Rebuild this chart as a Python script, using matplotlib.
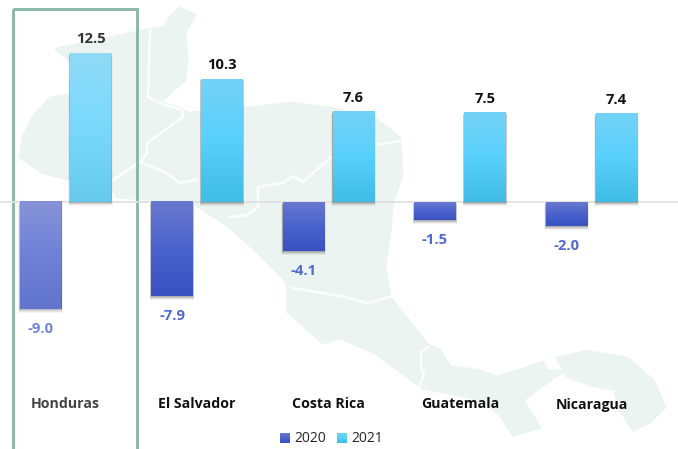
import matplotlib
matplotlib.use('Agg')
import matplotlib.pyplot as plt
import numpy as np
from matplotlib.colors import LinearSegmentedColormap
from matplotlib.patches import Polygon, Rectangle
from matplotlib.transforms import Affine2D

countries = ['Honduras', 'El Salvador', 'Costa Rica', 'Guatemala', 'Nicaragua']
values_2020 = [-9.0, -7.9, -4.1, -1.5, -2.0]
values_2021 = [12.5, 10.3, 7.6, 7.5, 7.4]

W, H = 678, 449
UX, UY = 131.5, 11.9  # px per country, px per unit of growth
plt.rcParams['font.family'] = ['Open Sans', 'DejaVu Sans']

fig = plt.figure(figsize=(W / 100, H / 100), dpi=100)
ax = fig.add_axes([0, 0, 1, 1])


def set_limits():
    ax.set_xlim(-65.5 / UX, (W - 65.5) / UX)
    ax.set_ylim(-(H - 202) / UY, 202 / UY)


set_limits()
ax.axis('off')

# background map, traced in pixels of the picture
px = Affine2D().scale(1, -1).translate(0, H)
map_main = [(56, 49), (147, 30), (165, 27), (170, 17), (180, 8), (195, 15), (185, 33), (187, 60),
            (185, 80), (160, 102), (180, 108), (187, 113), (250, 108), (290, 103), (330, 108),
            (377, 120), (400, 138), (402, 175), (392, 205), (390, 232), (385, 265), (390, 297),
            (428, 345), (440, 350), (450, 367), (477, 370), (497, 377), (520, 370), (543, 362),
            (547, 370), (563, 372), (553, 378), (523, 400), (540, 428), (513, 435), (500, 415),
            (483, 400), (423, 388), (373, 352), (340, 338), (323, 343), (288, 312), (287, 282),
            (255, 250), (227, 225), (193, 203), (117, 197), (113, 190), (43, 173), (20, 157),
            (23, 137), (33, 117), (50, 98), (70, 95), (72, 62)]
map_east = [(557, 358), (587, 351), (627, 358), (653, 380), (665, 407), (650, 422), (633, 430),
            (620, 410), (615, 393), (632, 391), (612, 389), (590, 385), (567, 376)]
map_borders = [
    [(150, 30), (148, 97), (160, 103), (182, 110), (183, 117), (147, 143), (147, 153), (140, 162),
     (165, 172), (180, 183), (197, 180)],
    [(140, 162), (113, 180)],
    [(400, 141), (377, 145), (330, 158), (303, 182), (293, 176), (283, 183), (258, 187),
     (258, 207), (247, 215), (230, 217)],
    [(293, 288), (340, 296), (367, 303), (390, 297)],
    [(428, 347), (421, 352), (421, 368), (424, 374), (420, 385)],
]
for shape in (map_main, map_east):
    ax.add_patch(Polygon(shape, closed=True, transform=px, facecolor='#ebf4f1', edgecolor='#ebf4f1',
                         lw=2, joinstyle='round', zorder=1))
for line in map_borders:
    xs, ys = zip(*line)
    ax.plot(xs, ys, transform=px, color='#fbfdfc', lw=2, solid_joinstyle='round', zorder=1.5)

# highlight box around Honduras
ax.add_patch(Rectangle((13, 9), 124, 445, transform=px, fill=False, edgecolor='#85b5a4', lw=2, zorder=2))

# zero line
ax.axhline(0, color='#e0e0e0', lw=1.3, zorder=2)

cmap_2020 = LinearSegmentedColormap.from_list('c20', ['#6878cf', '#4a62cc', '#3a52c0'])
cmap_2021 = LinearSegmentedColormap.from_list('c21', ['#74d2f6', '#58d0fc', '#40bce6'])
grad = np.linspace(0, 1, 64).reshape(-1, 1)

x = np.arange(len(countries))
bar_w = 41.5 / UX
offset = 25 / UX


def gradient_bars(xpos, vals, cmap):
    bars = ax.bar(xpos, vals, width=bar_w, color='none', zorder=4)
    for i, b in enumerate(bars):
        alpha = 0.8 if i == 0 else 1.0  # Honduras is drawn faded
        x0, x1 = b.get_x(), b.get_x() + b.get_width()
        y0, y1 = sorted((0, b.get_height()))
        # soft shadow under the bar
        for k, a in zip((4, 3, 2, 1), (0.07, 0.10, 0.14, 0.18)):
            ax.add_patch(Rectangle((x0 - 0.4 * k / UX, y0 - k / UY), x1 - x0 + 0.8 * k / UX, y1 - y0 + 0.5 * k / UY,
                                   facecolor='#404040', edgecolor='none', alpha=a * alpha, zorder=3))
        ax.add_patch(Rectangle((x0, y0), x1 - x0, y1 - y0, facecolor='white', edgecolor='none', zorder=3.5))
        ax.imshow(grad, cmap=cmap, extent=(x0, x1, y0, y1), aspect='auto', alpha=alpha, zorder=4,
                  interpolation='bilinear')
    return bars


gradient_bars(x - offset, values_2020, cmap_2020)
gradient_bars(x + offset, values_2021, cmap_2021)
set_limits()

# value labels
for i, v in enumerate(values_2020):
    ax.annotate(f'{v:.1f}', (x[i] - offset, v), xytext=(0, -13), textcoords='offset pixels', ha='center', va='top',
                fontsize=10.6, fontweight='bold', color='#7186da' if i == 0 else '#5069cf', zorder=5)
for i, v in enumerate(values_2021):
    ax.annotate(f'{v:.1f}', (x[i] + offset, v), xytext=(0, 7), textcoords='offset pixels', ha='center', va='bottom',
                fontsize=10.6, fontweight='bold', color='#333333' if i == 0 else '#111111', zorder=5)

# country labels sit on one line below the bars
label_y = (202 - 404.5) / UY
for i, name in enumerate(countries):
    ax.text(x[i], label_y, name, ha='center', va='center', fontsize=10.2, fontweight='bold',
            color='#444444' if i == 0 else '#111111', zorder=5)

# legend, two gradient swatches with text
for left, cmap, label in ((280, cmap_2020, '2020'), (337, cmap_2021, '2021')):
    sw = fig.add_axes([left / W, 1 - 443 / H, 10 / W, 10 / H])
    sw.imshow(grad, cmap=cmap, aspect='auto')
    sw.axis('off')
    fig.text((left + 14) / W, 1 - 438.5 / H, label, ha='left', va='center', fontsize=10, color='#222222')

fig.savefig('out.png', dpi=100)
